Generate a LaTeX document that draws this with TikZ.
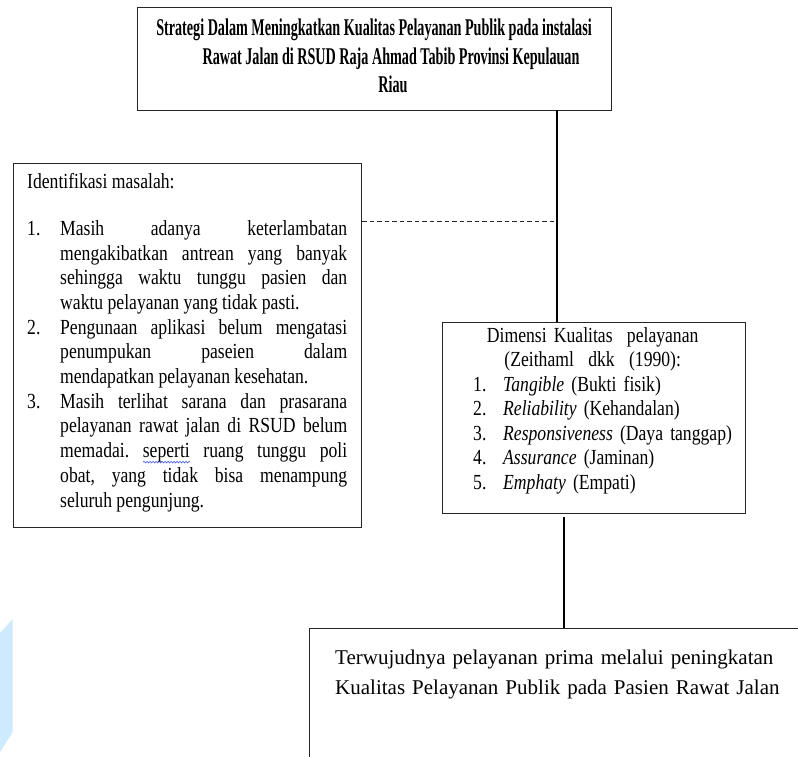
\documentclass[tikz,border=0pt]{standalone}
\usepackage{fontspec}
\usetikzlibrary{decorations.pathmorphing}
\setmainfont{Liberation Serif}
\newfontfamily\topfont[FakeStretch=0.59]{Liberation Serif}
\newfontfamily\bodyfont[FakeStretch=0.82]{Liberation Serif}
\definecolor{wm}{RGB}{206,234,255}
\definecolor{squigblue}{RGB}{60,80,230}
\newdimen\squigw
\newcommand\squig[1]{\setbox0=\hbox{#1}\squigw=\wd0\rlap{\tikz[baseline=0pt,x=1pt,y=1pt]\draw[squigblue, line width=0.6pt, decorate, decoration={snake, amplitude=0.8pt, segment length=3pt}] (0pt,-4.5pt) -- (\squigw,-4.5pt);}#1}
\hbadness=10000
\frenchspacing
\begin{document}
\begin{tikzpicture}[x=1pt,y=-1pt,
  box/.style={draw=black!85, line width=1.1pt, inner sep=0pt},
  conn/.style={line width=2.2pt, black},
  dashline/.style={line width=0.9pt, dash pattern=on 4.5pt off 3pt, black!85},
  txt/.style={inner sep=0pt}]
\useasboundingbox (0,0) rectangle (798,756);
\clip (0,0) rectangle (798,756);
\fill[wm] (0,633) -- (12.7,619) -- (12.7,732) -- (0,752) -- cycle;

% boxes
\node[box, anchor=north west, minimum width=474pt, minimum height=103pt] (top) at (137,7) {};
\node[box, anchor=north west, minimum width=348pt, minimum height=364pt] (ident) at (13,163) {};
\node[box, anchor=north west, minimum width=303pt, minimum height=191pt] (dim) at (442,322) {};
\node[box, anchor=north west, minimum width=520pt, minimum height=200pt] (result) at (309,628) {};

% texts
\node[txt, anchor=north, align=center, font=\topfont\bfseries\fontsize{24}{28.5}\selectfont] (toptext) at (374,19)
 {Strategi Dalam Meningkatkan Kualitas Pelayanan Publik pada instalasi\\
  \hspace*{34pt}Rawat Jalan di RSUD Raja Ahmad Tabib Provinsi Kepulauan\\
  \hspace*{38pt}Riau};

\node[txt, anchor=north west, text width=320pt, align=justify, font=\bodyfont\fontsize{21.5}{24.7}\selectfont] (identtext) at (27,173)
 {Identifikasi masalah:\par\vspace{22.3pt}
  \leftskip=33pt\noindent\llap{\makebox[33pt][l]{1.}}Masih adanya keterlambatan\linebreak
  mengakibatkan antrean yang banyak\linebreak
  sehingga waktu tunggu pasien dan\linebreak
  waktu pelayanan yang tidak pasti.\par
  \noindent\llap{\makebox[33pt][l]{2.}}Pengunaan aplikasi belum mengatasi\linebreak
  penumpukan paseien dalam\linebreak
  mendapatkan pelayanan kesehatan.\par
  \noindent\llap{\makebox[33pt][l]{3.}}Masih terlihat sarana dan prasarana\linebreak
  pelayanan rawat jalan di RSUD belum\linebreak
  memadai. \squig{seperti} ruang tunggu poli\linebreak
  obat, yang tidak bisa menampung\linebreak
  seluruh pengunjung.\par};

\node[txt, anchor=north west, text width=285pt, align=left, font=\bodyfont\fontsize{21.5}{24.5}\selectfont] (dimtext) at (450,327)
 {{\centering Dimensi Kualitas\ \ pelayanan\\
  (Zeithaml\ \ dkk\ \ (1990):\par}
  \leftskip=53pt\hyphenpenalty=10000
  \noindent\llap{\makebox[30pt][l]{1.}}\textit{Tangible} (Bukti fisik)\par
  \noindent\llap{\makebox[30pt][l]{2.}}\textit{Reliability} (Kehandalan)\par
  \noindent\llap{\makebox[30pt][l]{3.}}\textit{Responsiveness} (Daya tanggap)\par
  \noindent\llap{\makebox[30pt][l]{4.}}\textit{Assurance} (Jaminan)\par
  \noindent\llap{\makebox[30pt][l]{5.}}\textit{Emphaty} (Empati)\par};

\node[txt, anchor=north west, text width=470pt, align=left, font=\fontsize{21}{30}\selectfont] (resulttext) at (335,650)
 {Terwujudnya pelayanan prima melalui peningkatan\\
  Kualitas Pelayanan Publik pada Pasien Rawat Jalan};

% connectors
\coordinate (j1) at (557,110);
\coordinate (j2) at (557,221);
\coordinate (j3) at (564,517);
\draw[conn] (j1) -- (j1 |- dim.north);
\draw[dashline] (j2 -| ident.east) -- (j2);
\draw[conn] (j3) -- (j3 |- result.north);
\end{tikzpicture}
\end{document}
